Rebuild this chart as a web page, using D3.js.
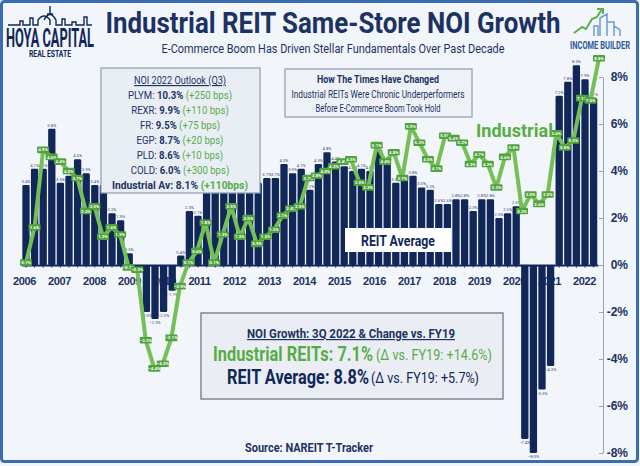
<!DOCTYPE html>
<html><head><meta charset="utf-8">
<script src="https://cdn.jsdelivr.net/npm/d3@7"></script>
<style>
html,body{margin:0;padding:0;background:#fff;}
svg{display:block;}
</style></head><body>
<svg id="c" width="640" height="466"></svg>
<script>
// ---------------- DATA ----------------
const yearTicks = [2006,2007,2008,2009,2010,2011,2012,2013,2014,2015,2016,2017,2018,2019,2020,2021,2022];
const yTicks = [-8,-6,-4,-2,0,2,4,6,8];
// REIT Average same-store NOI growth (%), quarterly bars
const reitAverage = [3.4,4.1,4.1,5.8,3.5,3.8,4.5,3.9,3.4,3.4,
  2.2,1.9,0.5,-0.1,-2.0,-2.3,-2.0,-1.1,0.4,2.3,
  2.1,3.4,3.6,3.3,3.5,3.6,3.4,3.5,3.7,3.7,
  4.3,3.9,4.1,3.2,4.3,4.8,4.4,4.2,4.0,4.1,
  4.0,4.9,4.4,3.5,3.6,3.8,3.3,3.2,2.6,2.6,
  2.8,2.8,2.3,2.8,2.8,2.0,2.2,2.5,-7.4,-8.0,
  -5.3,-4.3,7.2,7.8,8.5,7.9,7.1];
// Industrial REITs same-store NOI growth (%), green line
const industrial = [0.1,1.6,4.9,4.6,4.4,4.0,3.7,2.3,2.5,1.2,
  1.6,1.3,-0.1,-0.2,-3.2,-4.4,-4.2,-3.1,-0.9,0.1,
  0.6,1.8,0.1,1.3,2.5,1.2,2.0,0.9,1.2,1.5,
  2.1,2.4,2.5,3.7,3.8,4.0,4.2,4.4,4.5,3.5,
  3.3,5.1,4.4,4.8,3.7,5.9,5.2,4.5,4.1,5.5,
  5.4,5.2,4.3,4.7,4.3,3.3,4.6,5.0,2.3,3.0,
  2.6,3.0,5.6,5.0,5.3,7.1,7.0,8.8];
const outlookTickers = ["PLYM","REXR","FR","EGP","PLD","COLD"];
const outlookValues  = ["10.3%","9.9%","9.5%","8.7%","8.6%","6.0%"];
const outlookChanges = ["(+250 bps)","(+110 bps)","(+75 bps)","(+20 bps)","(+10 bps)","(+300 bps)"];

// ---------------- SETUP ----------------
const NAVY="#11275a", TXT="#1c3263", GREEN="#58ac45", LINEG="#72c056", MARK="#4fa23c";
const F="'Liberation Sans Narrow','Roboto','Liberation Sans',sans-serif";
const svg=d3.select("#c");
const fit=(s,w)=>s.attr("textLength",w).attr("lengthAdjust","spacingAndGlyphs");
const OUTLOOK={x:101,y:68,w:159,h:125};

svg.append("rect").attr("width",640).attr("height",466).attr("fill","#f2f5fa");

const quarters=[];
yearTicks.forEach(yr=>[1,2,3,4].forEach(q=>quarters.push(yr+" Q"+q)));
quarters.length=reitAverage.length;

const x=d3.scaleBand().domain(quarters).range([21.7,597.9]).paddingInner(0.15).paddingOuter(0.075);
const y=d3.scaleLinear().domain([-8,8]).range([453,77]);
const xYear=d3.scaleLinear().domain([2006,2022]).range([24,584]);
const xLine=d3.scaleLinear().domain([0,industrial.length-1]).range([x(quarters[0])+x.bandwidth()/2,599]);

// ---------- year labels (under bars) ----------
function yearAxis(g,color){
  g.attr("transform","translate(0,274)")
   .call(d3.axisBottom(xYear).tickValues(yearTicks).tickFormat(d3.format("d")).tickSize(0).tickPadding(3))
   .call(a=>a.select(".domain").remove())
   .selectAll("text").attr("font-family","'Liberation Sans',Arial,sans-serif").attr("font-weight","bold")
   .attr("font-size",11).attr("letter-spacing",-0.4).attr("fill",color);
}
svg.append("g").call(g=>yearAxis(g,TXT));

// ---------- bars ----------
const barY=d=>y(Math.max(0,d)), barH=d=>Math.abs(y(d)-y(0));
svg.append("g").selectAll("rect").data(reitAverage).join("rect")
  .attr("x",(d,i)=>x(quarters[i])).attr("width",x.bandwidth())
  .attr("y",barY).attr("height",barH).attr("rx",1.3).attr("fill",NAVY);

// light copy of year labels where bars overlap them
const clip=svg.append("clipPath").attr("id","barclip");
clip.selectAll("rect").data(reitAverage).join("rect")
  .attr("x",(d,i)=>x(quarters[i])).attr("width",x.bandwidth())
  .attr("y",barY).attr("height",barH);
svg.append("g").attr("clip-path","url(#barclip)").call(g=>yearAxis(g,"#8496bb"));

// bar value labels (those hidden behind the outlook box are not drawn)
const labY=d=>d>=0?y(d)-2:y(d)+5;
const labX=(d,i)=>x(quarters[i])+x.bandwidth()/2;
const visible=reitAverage.map((d,i)=>({d,i})).filter(o=>{
  const lx=labX(o.d,o.i), ly=labY(o.d);
  return !(lx>OUTLOOK.x-3 && lx<OUTLOOK.x+OUTLOOK.w+3 && ly<OUTLOOK.y+OUTLOOK.h+2);
});
svg.append("g").selectAll("text").data(visible).join("text")
  .attr("x",o=>labX(o.d,o.i)).attr("y",o=>labY(o.d))
  .attr("text-anchor","middle").attr("font-family",F).attr("font-size",4.2).attr("fill","#3a4a70")
  .text(o=>d3.format(".1f")(o.d)+"%");

// zero axis
svg.append("g").attr("transform",`translate(0,${y(0)})`)
  .call(d3.axisBottom(x).tickSize(2.5).tickSizeOuter(0).tickFormat(""))
  .call(g=>g.select(".domain").attr("stroke",NAVY).attr("stroke-width",2))
  .call(g=>g.selectAll(".tick line").attr("stroke",NAVY));

// right axis
svg.append("g").attr("transform","translate(603,0)")
  .call(d3.axisLeft(y).tickValues(yTicks).tickSize(4).tickSizeOuter(0).tickFormat(d=>d+"%"))
  .call(g=>g.select(".domain").attr("stroke","#98a4b7"))
  .call(g=>g.selectAll(".tick line").attr("stroke","#98a4b7"))
  .call(g=>g.selectAll("text").attr("x",25).attr("text-anchor","end")
     .attr("font-family","'Liberation Sans',Arial,sans-serif").attr("font-weight","bold")
     .attr("font-size",12).attr("fill",TXT));

// ---------- industrial line ----------
svg.append("path").datum(industrial)
  .attr("d",d3.line().x((d,i)=>xLine(i)).y(d=>y(d)))
  .attr("fill","none").attr("stroke",LINEG).attr("stroke-width",4).attr("stroke-linejoin","round");
const mk=svg.append("g").selectAll("g").data(industrial).join("g")
  .attr("transform",(d,i)=>`translate(${xLine(i)},${y(d)})`);
mk.append("rect").attr("x",-6).attr("y",-3.3).attr("width",12).attr("height",6.6).attr("rx",1).attr("fill",MARK);
mk.append("text").attr("y",1.6).attr("text-anchor","middle").attr("font-family",F).attr("font-weight","bold")
  .attr("font-size",4.4).attr("fill","#fff").text(d=>d3.format(".1f")(d)+"%");

// ---------- header ----------
fit(svg.append("text").attr("x",333).attr("y",33).attr("text-anchor","middle").attr("font-family",F)
  .attr("font-weight","bold").attr("font-size",29).attr("fill",TXT)
  .text("Industrial REIT Same-Store NOI Growth"),455);
fit(svg.append("text").attr("x",333).attr("y",53).attr("text-anchor","middle").attr("font-family",F)
  .attr("font-size",12.5).attr("fill",TXT)
  .text("E-Commerce Boom Has Driven Stellar Fundamentals Over Past Decade"),343);

// Hoya Capital logo
svg.append("path").attr("fill","none").attr("stroke",NAVY).attr("stroke-width",1.4)
  .attr("d","M8,25 H20 V21 H23 V25 H30 V18 H33 V25 H38 V20 Q44,12 50,20 V25 M50,6 V14 M47,14 H53 M44,20 Q50,9 56,20 V25 H62 V19 H65 V25 H72 V22 H76 V25 H84 V17 H87 V25 H92");
fit(svg.append("text").attr("x",50).attr("y",47).attr("text-anchor","middle").attr("font-family",F)
  .attr("font-weight","bold").attr("font-size",25).attr("fill",NAVY).text("HOYA CAPITAL"),88);
fit(svg.append("text").attr("x",50).attr("y",57).attr("text-anchor","middle").attr("font-family",F)
  .attr("font-weight","bold").attr("font-size",8.5).attr("fill",NAVY).text("REAL ESTATE"),42);

// Income Builder logo
svg.append("path").attr("fill","none").attr("stroke","#5cb048").attr("stroke-width",2)
  .attr("d","M574,33 L582,27 L586,29 L592,19 L597,17 L602,9 M597,9 H603 V14");
svg.append("path").attr("fill","none").attr("stroke","#6f9bd1").attr("stroke-width",1.5)
  .attr("d","M600,36 V18 L607,14 V36 M607,36 V22 H614 V36 M614,36 V26 L620,30 V36 M594,36 V26 H598 V36");
{
  const ib=svg.append("text").attr("text-anchor","middle").attr("font-family",F)
    .attr("font-weight","bold").attr("font-size",10).attr("fill","#2c5a9c").text("INCOME BUILDER");
  const w=ib.node().getComputedTextLength();
  ib.attr("transform",`translate(600,49) scale(${60/w},1)`);
}

// ---------- Outlook box ----------
svg.append("rect").attr("x",OUTLOOK.x).attr("y",OUTLOOK.y).attr("width",OUTLOOK.w).attr("height",OUTLOOK.h)
  .attr("fill","#e9eef5").attr("stroke","#8f9cb0").attr("stroke-width",1.2);
const ob=svg.append("g").attr("font-family",F).attr("font-size",11.5).attr("fill",TXT).attr("text-anchor","middle");
fit(ob.append("text").attr("x",180).attr("y",84).attr("text-decoration","underline").text("NOI 2022 Outlook (Q3)"),92);
const rows=ob.selectAll("text.row").data(outlookTickers).join("text").attr("class","row")
  .attr("x",180).attr("y",(d,i)=>99+14.9*i);
rows.append("tspan").text(d=>d+": ");
rows.append("tspan").attr("font-weight","bold").text((d,i)=>outlookValues[i]);
rows.append("tspan").attr("fill",GREEN).text((d,i)=>" "+outlookChanges[i]);
const last=ob.append("text").attr("x",180).attr("y",188.5).attr("font-weight","bold");
last.append("tspan").text("Industrial Av: 8.1% ");
last.append("tspan").attr("fill",GREEN).text("(+110bps)");
{
  const nodes=rows.nodes();
  const k=104/nodes[0].getComputedTextLength();
  nodes.forEach(n=>fit(d3.select(n),n.getComputedTextLength()*k));
  fit(last,136);
}

// ---------- Times box ----------
svg.append("rect").attr("x",285).attr("y",69).attr("width",187).attr("height",48)
  .attr("fill","#eef2f7").attr("stroke","#8f9cb0").attr("stroke-width",1.2);
const tb=svg.append("g").attr("font-family",F).attr("font-size",11).attr("fill",TXT).attr("text-anchor","middle");
fit(tb.append("text").attr("x",378).attr("y",83).attr("font-weight","bold").text("How The Times Have Changed"),122);
fit(tb.append("text").attr("x",378).attr("y",97.5).text("Industrial REITs Were Chronic Underperformers"),173);
fit(tb.append("text").attr("x",378).attr("y",112).text("Before E-Commerce Boom Took Hold"),125);

// Industrial label
fit(svg.append("text").attr("x",476).attr("y",137).attr("font-family",F).attr("font-weight","bold")
  .attr("font-size",18).attr("fill",GREEN).text("Industrial"),77);

// REIT Average label
svg.append("rect").attr("x",345).attr("y",228).attr("width",106).attr("height",24).attr("fill","#ffffff");
fit(svg.append("text").attr("x",398).attr("y",245.5).attr("text-anchor","middle").attr("font-family",F)
  .attr("font-weight","bold").attr("font-size",15).attr("fill",NAVY).text("REIT Average"),74);

// ---------- bottom box ----------
svg.append("rect").attr("x",201).attr("y",313).attr("width",302).attr("height",86)
  .attr("fill","#eaeef4").attr("stroke","#7f8898").attr("stroke-width",1.5);
fit(svg.append("text").attr("x",351).attr("y",338).attr("text-anchor","middle").attr("font-family",F)
  .attr("font-weight","bold").attr("font-size",12).attr("fill",TXT).attr("text-decoration","underline")
  .text("NOI Growth: 3Q 2022 & Change vs. FY19"),208);
fit(svg.append("text").attr("x",213).attr("y",361).attr("font-family",F).attr("font-weight","bold")
  .attr("font-size",21).attr("fill",GREEN).text("Industrial REITs: 7.1%"),160);
fit(svg.append("text").attr("x",376).attr("y",360).attr("font-family",F)
  .attr("font-size",14).attr("fill",GREEN).text("(Δ vs. FY19: +14.6%)"),116);
fit(svg.append("text").attr("x",227).attr("y",384).attr("font-family",F).attr("font-weight","bold")
  .attr("font-size",21).attr("fill",NAVY).text("REIT Average: 8.8%"),142);
fit(svg.append("text").attr("x",371).attr("y",383).attr("font-family",F)
  .attr("font-size",14).attr("fill",NAVY).text("(Δ vs. FY19: +5.7%)"),108);

fit(svg.append("text").attr("x",245).attr("y",452).attr("font-family",F).attr("font-weight","bold")
  .attr("font-size",12).attr("fill",TXT).text("Source: NAREIT T-Tracker"),128);

// frame
svg.append("rect").attr("x",1.5).attr("y",1.5).attr("width",636).attr("height",460).attr("rx",3)
  .attr("fill","none").attr("stroke","#3a6cb2").attr("stroke-width",3);
</script>
</body></html>
